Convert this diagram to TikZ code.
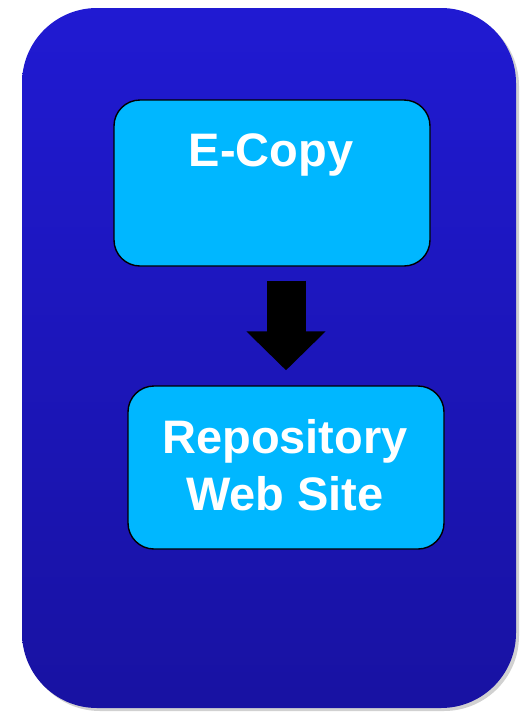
\documentclass[tikz,border=0pt]{standalone}
\usepackage{fontspec}
\setmainfont{Liberation Sans}
\usetikzlibrary{arrows.meta}
\definecolor{outerTop}{RGB}{32,26,210}
\definecolor{outerBot}{RGB}{24,18,162}
\definecolor{boxfill}{RGB}{0,183,255}
\tikzset{
  panel/.style={rounded corners=75pt, top color=outerTop, bottom color=outerBot, draw=none},
  panelshadow/.style={rounded corners=75pt, fill=black!18},
  flowbox/.style={draw=black, line width=1.4pt, fill=boxfill, rounded corners=26pt, inner sep=0pt},
  boxtext/.style={text=white, font=\bfseries, align=center, inner sep=0pt},
  bigarrow/.style={line width=39pt, draw=black, -{Triangle[length=39pt, width=77pt]}}
}
\begin{document}
\begin{tikzpicture}[x=1pt,y=-1pt]
\useasboundingbox (0,0) rectangle (522,713);
\fill[panelshadow] (25,11) rectangle (519,711);
\node[panel, minimum width=494pt, minimum height=700pt, inner sep=0pt] (outer) at (269,358) {};
\node[flowbox, minimum width=316pt, minimum height=166pt] (ecopy) at (272,183) {};
\node[boxtext, font=\bfseries\fontsize{47}{56}\selectfont, anchor=base] (ecopytext) at (271,166) {E-Copy};
\node[flowbox, minimum width=316pt, minimum height=163pt] (repo) at (286,467.5) {};
\node[boxtext, font=\bfseries\fontsize{47}{57}\selectfont] (repotext) at (285,465) {Repository\\Web Site};
\draw[bigarrow] ([yshift=-14pt]ecopy.south -| repo.north) -- ([yshift=15pt]repo.north);
\end{tikzpicture}
\end{document}
